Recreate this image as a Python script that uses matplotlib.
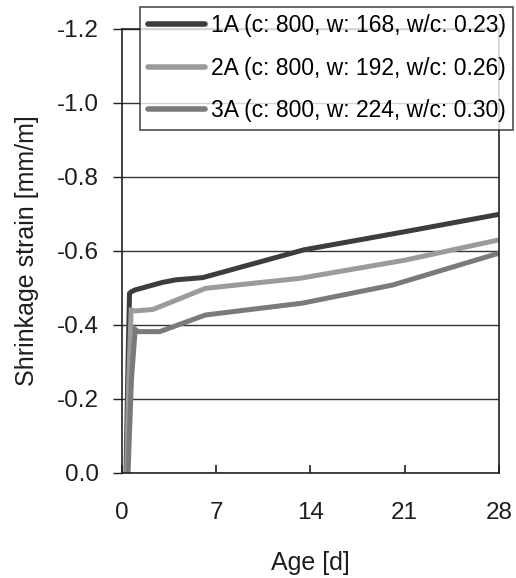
import matplotlib
matplotlib.use("Agg")
import matplotlib.pyplot as plt

plt.rcParams['font.family'] = ['Liberation Sans', 'DejaVu Sans']
plt.rcParams['axes.unicode_minus'] = False

# Shrinkage strain over age
age_1a = [0.3, 0.45, 0.56, 0.7, 1.0, 1.5, 2.0, 3.0, 4.0, 6.0, 13.5, 21.0, 28.0]
strain_1a = [0.0, -0.30, -0.485, -0.49, -0.495, -0.50, -0.505, -0.515, -0.522, -0.528, -0.603, -0.652, -0.699]

age_2a = [0.35, 0.5, 0.68, 1.0, 2.3, 3.2, 6.2, 13.2, 21.0, 28.0]
strain_2a = [0.0, -0.25, -0.44, -0.438, -0.442, -0.455, -0.499, -0.526, -0.575, -0.63]

age_3a = [0.45, 0.7, 0.98, 1.2, 2.8, 6.2, 13.4, 20.1, 28.0]
strain_3a = [0.0, -0.25, -0.388, -0.382, -0.382, -0.427, -0.459, -0.508, -0.594]

labels = ["1A (c: 800, w: 168, w/c: 0.23)",
          "2A (c: 800, w: 192, w/c: 0.26)",
          "3A (c: 800, w: 224, w/c: 0.30)"]
colors = ["#3d3d3d", "#9b9b9b", "#7a7a7a"]

x_ticks = [0, 7, 14, 21, 28]
y_ticks = [0.0, -0.2, -0.4, -0.6, -0.8, -1.0, -1.2]

fig = plt.figure(figsize=(5.16, 5.78), dpi=100)
ax = fig.add_axes([0.2364, 0.1817, 0.7306, 0.7682])

for a, s, lab, col in zip([age_1a, age_2a, age_3a], [strain_1a, strain_2a, strain_3a], labels, colors):
    ax.plot(a, s, color=col, lw=3.6, label=lab, solid_capstyle='butt', solid_joinstyle='miter')

ax.set_xlim(0, 28)
ax.set_ylim(0, -1.2)
ax.set_xticks(x_ticks)
ax.set_yticks(y_ticks)
ax.set_yticklabels([f"{v:.1f}" for v in y_ticks])
ax.yaxis.grid(True, color="#333333", lw=1.0)
ax.set_axisbelow(True)

ax.tick_params(axis='x', direction='in', length=6, width=1.2, pad=21, labelsize=17.5, colors="#1e1e1e")
ax.tick_params(axis='y', direction='out', length=6.5, width=1.0, pad=10, labelsize=17.5, colors="#1e1e1e")
for sp in ax.spines.values():
    sp.set_linewidth(1.2)
    sp.set_color("#222222")

ax.set_xlabel("Age [d]", fontsize=18, labelpad=19, color="#1e1e1e")
ax.set_ylabel("Shrinkage strain [mm/m]", fontsize=18, labelpad=13, color="#1e1e1e")

leg = ax.legend(loc='upper right', bbox_to_anchor=(513 / 516, 1 - 7 / 578),
                bbox_transform=fig.transFigure, fontsize=16.5, frameon=True,
                fancybox=False, borderaxespad=0, handlelength=2.5,
                handletextpad=0.25, labelspacing=0.85, borderpad=0.32)
leg.get_frame().set_edgecolor("#222222")
leg.get_frame().set_linewidth(1.2)
for h in leg.get_lines():
    h.set_linewidth(4)
    h.set_solid_capstyle('round')

fig.savefig("out.png", dpi=100)
